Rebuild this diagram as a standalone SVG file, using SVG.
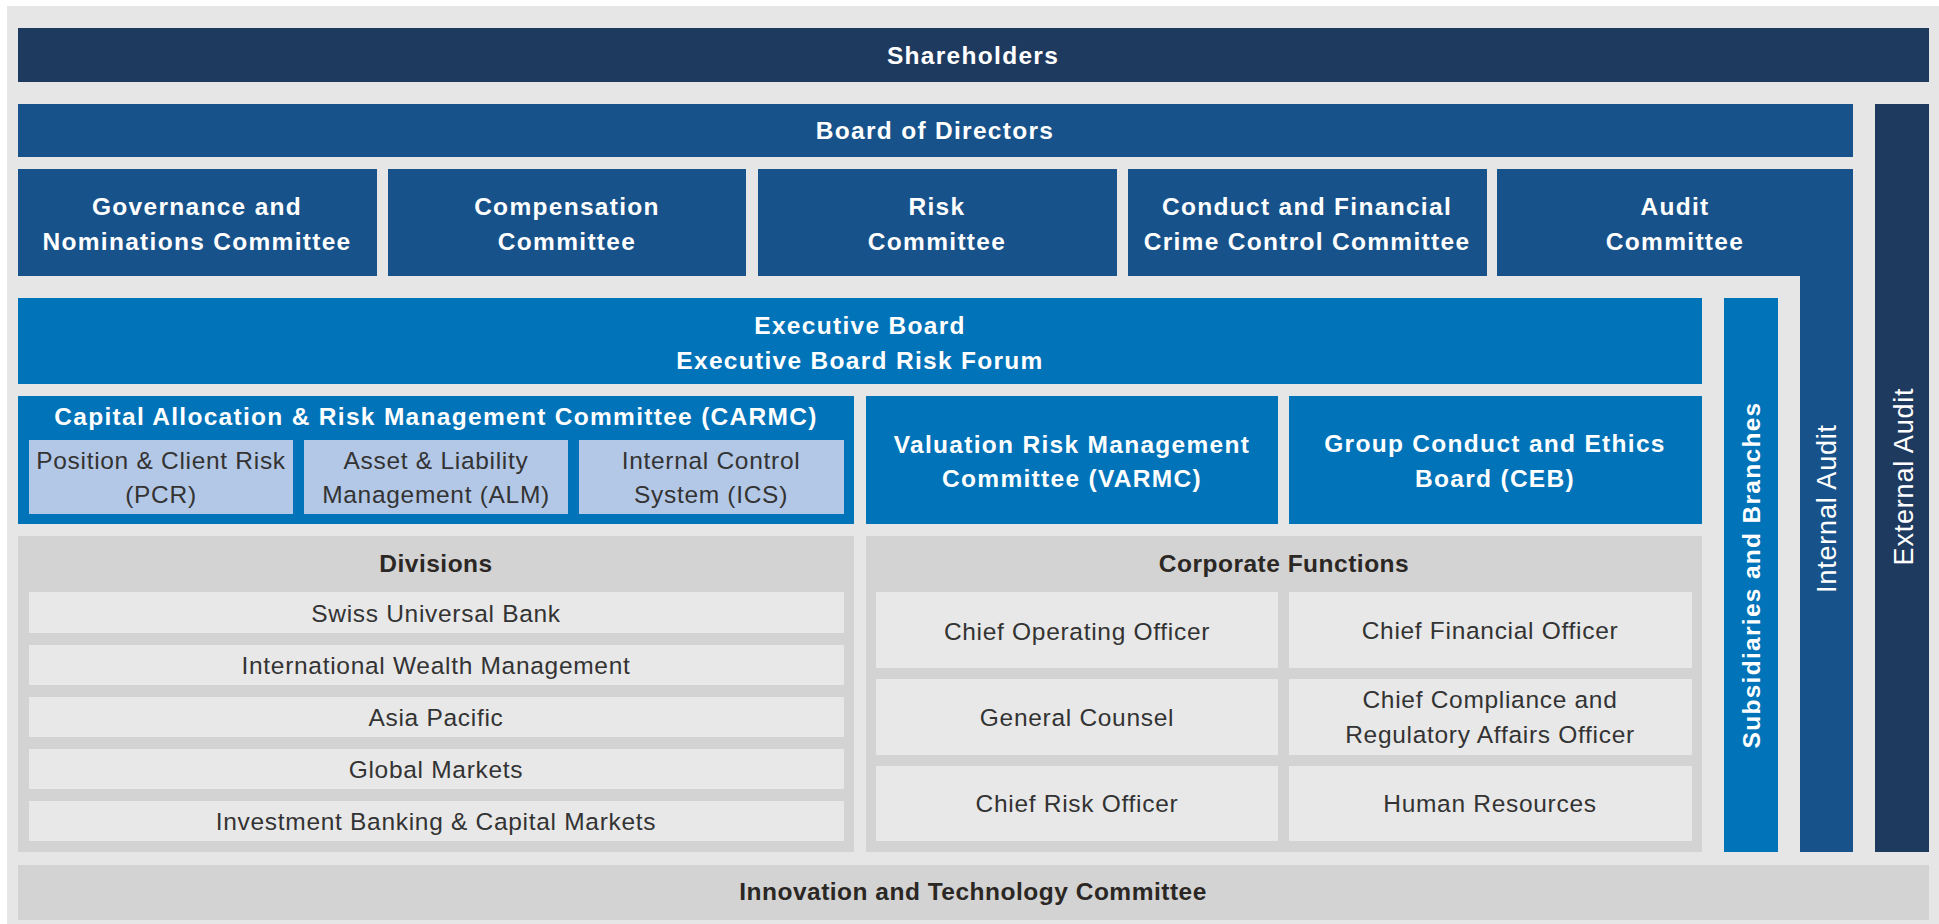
<svg xmlns="http://www.w3.org/2000/svg" width="1939" height="924" viewBox="0 0 1939 924">
  <style>
    .navy { fill: #1f3a5f; }
    .board { fill: #17528a; }
    .exec { fill: #0073b9; }
    .sub { fill: #b3c8e6; }
    .panel { fill: #d3d3d3; }
    .row { fill: #e8e8e8; }
    text { font-family: "Liberation Sans", Arial, sans-serif; text-anchor: middle; }
    .tb { font-weight: bold; font-size: 24.5px; letter-spacing: 1.3px; fill: #ffffff; }
    .th { font-weight: bold; font-size: 24.5px; letter-spacing: 0.5px; fill: #2b2724; }
    .tr { font-size: 24.5px; letter-spacing: 0.7px; fill: #333333; }
    .tv { font-size: 27px; letter-spacing: 0.8px; fill: #ffffff; }
  </style>

  <!-- page background -->
  <rect x="7" y="6" width="1932" height="918" fill="#e6e6e6"/>

  <g id="shareholders">
    <rect class="navy" x="18" y="28" width="1911" height="54"/>
    <text class="tb" x="973" y="64">Shareholders</text>
  </g>

  <g id="board-of-directors">
    <rect class="board" x="18" y="104" width="1835" height="53"/>
    <text class="tb" x="935" y="139">Board of Directors</text>
  </g>

  <g id="governance-committee">
    <rect class="board" x="18" y="169" width="359" height="107"/>
    <text class="tb" x="197" y="215">Governance and</text>
    <text class="tb" x="197" y="250">Nominations Committee</text>
  </g>

  <g id="compensation-committee">
    <rect class="board" x="388" y="169" width="358" height="107"/>
    <text class="tb" x="567" y="215">Compensation</text>
    <text class="tb" x="567" y="250">Committee</text>
  </g>

  <g id="risk-committee">
    <rect class="board" x="758" y="169" width="359" height="107"/>
    <text class="tb" x="937" y="215">Risk</text>
    <text class="tb" x="937" y="250">Committee</text>
  </g>

  <g id="conduct-committee">
    <rect class="board" x="1128" y="169" width="359" height="107"/>
    <text class="tb" x="1307" y="215">Conduct and Financial</text>
    <text class="tb" x="1307" y="250">Crime Control Committee</text>
  </g>

  <!-- audit committee continues down as the internal audit column -->
  <g id="audit-committee">
    <path class="board" d="M1497 169 H1853 V852 H1800 V276 H1497 Z"/>
    <text class="tb" x="1675" y="215">Audit</text>
    <text class="tb" x="1675" y="250">Committee</text>
  </g>

  <g id="internal-audit">
    <text class="tv" transform="translate(1836 508.5) rotate(-90)">Internal Audit</text>
  </g>

  <g id="external-audit">
    <rect class="navy" x="1875" y="104" width="54" height="748"/>
    <text class="tv" transform="translate(1913 476.5) rotate(-90)">External Audit</text>
  </g>

  <g id="subsidiaries">
    <rect class="exec" x="1724" y="298" width="54" height="554"/>
    <text class="tb" transform="translate(1760 575) rotate(-90)">Subsidiaries and Branches</text>
  </g>

  <g id="executive-board">
    <rect class="exec" x="18" y="298" width="1684" height="86"/>
    <text class="tb" x="860" y="334">Executive Board</text>
    <text class="tb" x="860" y="369">Executive Board Risk Forum</text>
  </g>

  <g id="carmc">
    <rect class="exec" x="18" y="396" width="836" height="128"/>
    <text class="tb" x="436" y="425">Capital Allocation &amp; Risk Management Committee (CARMC)</text>
  </g>

  <g id="pcr">
    <rect class="sub" x="29" y="440" width="264" height="74"/>
    <text class="tr" x="161" y="469">Position &amp; Client Risk</text>
    <text class="tr" x="161" y="503">(PCR)</text>
  </g>

  <g id="alm">
    <rect class="sub" x="304" y="440" width="264" height="74"/>
    <text class="tr" x="436" y="469">Asset &amp; Liability</text>
    <text class="tr" x="436" y="503">Management (ALM)</text>
  </g>

  <g id="ics">
    <rect class="sub" x="579" y="440" width="265" height="74"/>
    <text class="tr" x="711" y="469">Internal Control</text>
    <text class="tr" x="711" y="503">System (ICS)</text>
  </g>

  <g id="varmc">
    <rect class="exec" x="866" y="396" width="412" height="128"/>
    <text class="tb" x="1072" y="453">Valuation Risk Management</text>
    <text class="tb" x="1072" y="487">Committee (VARMC)</text>
  </g>

  <g id="ceb">
    <rect class="exec" x="1289" y="396" width="413" height="128"/>
    <text class="tb" x="1495" y="452">Group Conduct and Ethics</text>
    <text class="tb" x="1495" y="487">Board (CEB)</text>
  </g>

  <g id="divisions">
    <rect class="panel" x="18" y="536" width="836" height="316"/>
    <text class="th" x="436" y="572">Divisions</text>
    <rect class="row" x="29" y="592" width="815" height="41"/>
    <text class="tr" x="436" y="622">Swiss Universal Bank</text>
    <rect class="row" x="29" y="645" width="815" height="40"/>
    <text class="tr" x="436" y="674">International Wealth Management</text>
    <rect class="row" x="29" y="697" width="815" height="40"/>
    <text class="tr" x="436" y="726">Asia Pacific</text>
    <rect class="row" x="29" y="749" width="815" height="40"/>
    <text class="tr" x="436" y="778">Global Markets</text>
    <rect class="row" x="29" y="801" width="815" height="40"/>
    <text class="tr" x="436" y="830">Investment Banking &amp; Capital Markets</text>
  </g>

  <g id="corporate-functions">
    <rect class="panel" x="866" y="536" width="836" height="316"/>
    <text class="th" x="1284" y="572">Corporate Functions</text>
    <rect class="row" x="876" y="592" width="402" height="76"/>
    <text class="tr" x="1077" y="640">Chief Operating Officer</text>
    <rect class="row" x="1289" y="592" width="403" height="76"/>
    <text class="tr" x="1490" y="639">Chief Financial Officer</text>
    <rect class="row" x="876" y="679" width="402" height="76"/>
    <text class="tr" x="1077" y="726">General Counsel</text>
    <rect class="row" x="1289" y="679" width="403" height="76"/>
    <text class="tr" x="1490" y="708">Chief Compliance and</text>
    <text class="tr" x="1490" y="743">Regulatory Affairs Officer</text>
    <rect class="row" x="876" y="766" width="402" height="75"/>
    <text class="tr" x="1077" y="812">Chief Risk Officer</text>
    <rect class="row" x="1289" y="766" width="403" height="75"/>
    <text class="tr" x="1490" y="812">Human Resources</text>
  </g>

  <g id="innovation-committee">
    <rect class="panel" x="18" y="865" width="1911" height="55"/>
    <text class="th" x="973" y="900">Innovation and Technology Committee</text>
  </g>

  <!-- the chart is drawn as nested blocks; no connector lines -->
  <g id="connectors"/>
</svg>
